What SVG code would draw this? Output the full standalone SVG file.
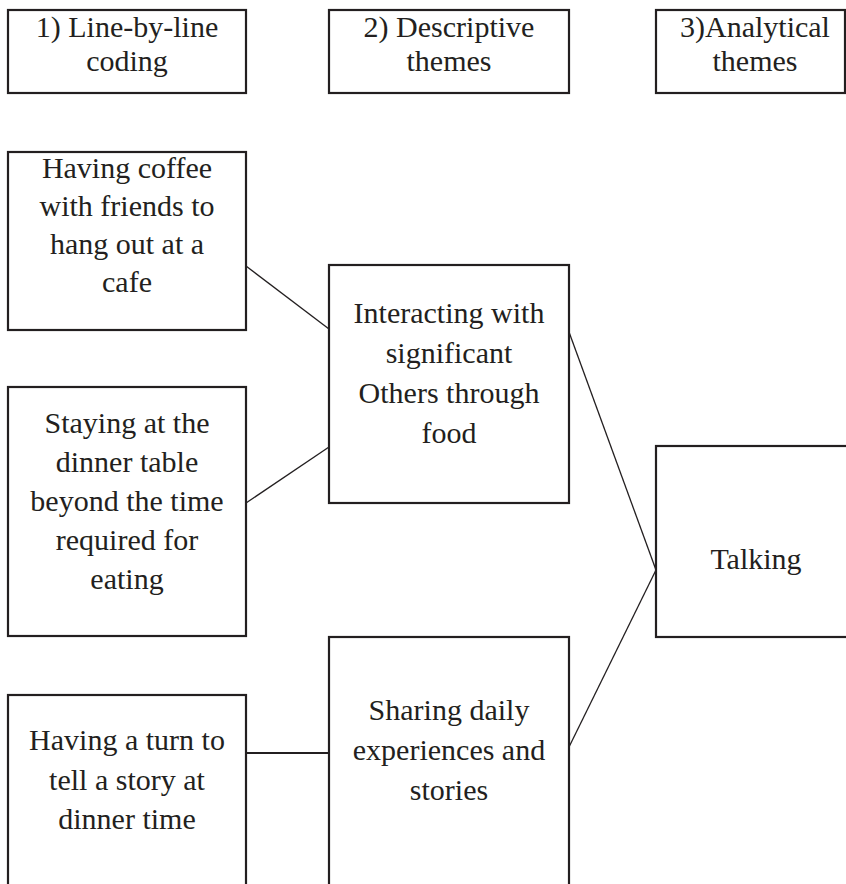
<svg xmlns="http://www.w3.org/2000/svg" width="846" height="884" viewBox="0 0 846 884">
  <style>
    .box { fill: #ffffff; stroke: #231f20; stroke-width: 2.2; }
    .edge { fill: none; stroke: #231f20; stroke-width: 1.3; }
    .lbl { font-family: "Liberation Serif", "Times New Roman", serif; font-size: 30px; fill: #231f20; text-anchor: middle; }
  </style>
  <rect width="846" height="884" fill="#ffffff"/>
  <g id="connectors">
    <line class="edge" x1="246" y1="266" x2="329" y2="329"/>
    <line class="edge" x1="246" y1="503" x2="329" y2="447"/>
    <line class="edge" x1="246" y1="753" x2="329" y2="753" style="stroke-width:2"/>
    <line class="edge" x1="569" y1="332" x2="656" y2="570"/>
    <line class="edge" x1="569" y1="747" x2="656" y2="570"/>
  </g>
  <g id="header1">
    <rect class="box" x="8" y="10" width="238" height="83"/>
    <text class="lbl" x="127" y="37">1) Line-by-line</text>
    <text class="lbl" x="127" y="71">coding</text>
  </g>
  <g id="header2">
    <rect class="box" x="329" y="10" width="240" height="83"/>
    <text class="lbl" x="449" y="37">2) Descriptive</text>
    <text class="lbl" x="449" y="71">themes</text>
  </g>
  <g id="header3">
    <rect class="box" x="656" y="10" width="189" height="83"/>
    <text class="lbl" x="755" y="37">3)Analytical</text>
    <text class="lbl" x="755" y="71">themes</text>
  </g>
  <g id="code-coffee">
    <rect class="box" x="8" y="152" width="238" height="178"/>
    <text class="lbl" x="127" y="178">Having coffee</text>
    <text class="lbl" x="127" y="216">with friends to</text>
    <text class="lbl" x="127" y="254">hang out at a</text>
    <text class="lbl" x="127" y="292">cafe</text>
  </g>
  <g id="code-dinner-table">
    <rect class="box" x="8" y="387" width="238" height="249"/>
    <text class="lbl" x="127" y="433">Staying at the</text>
    <text class="lbl" x="127" y="472">dinner table</text>
    <text class="lbl" x="127" y="511">beyond the time</text>
    <text class="lbl" x="127" y="550">required for</text>
    <text class="lbl" x="127" y="589">eating</text>
  </g>
  <g id="code-story">
    <rect class="box" x="8" y="695" width="238" height="210"/>
    <text class="lbl" x="127" y="750">Having a turn to</text>
    <text class="lbl" x="127" y="790">tell a story at</text>
    <text class="lbl" x="127" y="829">dinner time</text>
  </g>
  <g id="theme-interacting">
    <rect class="box" x="329" y="265" width="240" height="238"/>
    <text class="lbl" x="449" y="323">Interacting with</text>
    <text class="lbl" x="449" y="363">significant</text>
    <text class="lbl" x="449" y="403">Others through</text>
    <text class="lbl" x="449" y="443">food</text>
  </g>
  <g id="theme-sharing">
    <rect class="box" x="329" y="637" width="240" height="270"/>
    <text class="lbl" x="449" y="720">Sharing daily</text>
    <text class="lbl" x="449" y="760">experiences and</text>
    <text class="lbl" x="449" y="800">stories</text>
  </g>
  <g id="analytical-talking">
    <rect class="box" x="656" y="446" width="210" height="191"/>
    <text class="lbl" x="756" y="569">Talking</text>
  </g>
</svg>
